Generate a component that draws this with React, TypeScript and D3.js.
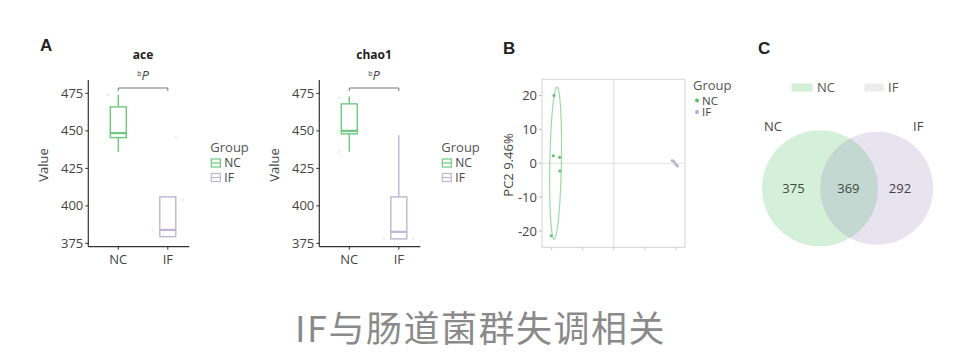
import React from "react";
import * as d3 from "d3";

const groups = ["NC", "IF"];
const aceNC = { min: 436, q1: 445.5, median: 448.5, q3: 466, max: 474 };
const aceIF = { min: 379.5, q1: 379.5, median: 384, q3: 406, max: 406 };
const chaoNC = { min: 436, q1: 448, median: 450, q3: 468, max: 473 };
const chaoIF = { min: 377.7, q1: 378, median: 382.7, q3: 406, max: 447 };
const aceFaintPoints = [
  { g: "NC", v: 474, dx: -10 }, { g: "IF", v: 446, dx: 8 }, { g: "IF", v: 404, dx: 15 }, { g: "IF", v: 384, dx: -15 },
];
const chaoFaintPoints = [
  { g: "NC", v: 472, dx: -10 }, { g: "NC", v: 436, dx: -10 }, { g: "IF", v: 378, dx: -15 }, { g: "IF", v: 378, dx: 15 },
];
const valueTicks = [375, 400, 425, 450, 475];

const pcaNC = [
  { x: -38.5, y: 20 }, { x: -38.9, y: 2.2 }, { x: -34.9, y: 1.8 }, { x: -34.7, y: -2.3 }, { x: -40.3, y: -21.4 },
];
const pcaIF = [
  { x: 37.6, y: 0.8 }, { x: 38.9, y: 0.4 }, { x: 39.9, y: -0.35 }, { x: 40.9, y: -0.8 },
];
const pcaYTicks = [-20, -10, 0, 10, 20];
const pcaXTicks = [-40, -20, 0, 20, 40];

const vennOnlyNC = 375;
const vennBoth = 369;
const vennOnlyIF = 292;

const COL_NC = "#6cca7e";
const COL_IF = "#bdb6d2";
const FONT = "'Open Sans', 'DejaVu Sans', sans-serif";

type Stat = { min: number; q1: number; median: number; q3: number; max: number };

function BoxPanel({ x0, title, nc, ifs, faint }: { x0: number; title: string; nc: Stat; ifs: Stat; faint: any[] }) {
  const y = d3.scaleLinear().domain([372.8, 483.9]).range([246.7, 80]);
  const x = d3.scalePoint().domain(groups).range([x0 + 30, x0 + 79.5]);
  const axisRight = x0 + 101;
  const stats: Record<string, Stat> = { NC: nc, IF: ifs };
  const cols: Record<string, string> = { NC: COL_NC, IF: COL_IF };
  const bw = 16;
  const bracketY = 88;
  return (
    <g>
      <text x={(x(groups[0])! + x(groups[1])!) / 2} y={59} textAnchor="middle" fontFamily={FONT} fontWeight="bold" fontSize={12} fill="#222">{title}</text>
      <path d={`M${x("NC")},${bracketY + 3}V${bracketY}H${x("IF")}V${bracketY + 3}`} fill="none" stroke="#777" strokeWidth={1} />
      <text x={(x("NC")! + x("IF")!) / 2} y={80} textAnchor="middle" fontFamily={FONT} fill="#444">
        <tspan fontSize={7} dy={-4}>b</tspan>
        <tspan fontSize={13} fontStyle="italic" dy={4}>P</tspan>
      </text>
      <line x1={x0} x2={x0} y1={80} y2={246.7} stroke="#333" strokeWidth={1.2} />
      <line x1={x0} x2={axisRight} y1={246.7} y2={246.7} stroke="#333" strokeWidth={1.2} />
      {valueTicks.map((t) => (
        <g key={t}>
          <line x1={x0 - 3} x2={x0} y1={y(t)} y2={y(t)} stroke="#333" />
          <text x={x0 - 5} y={y(t)} dy="0.35em" textAnchor="end" fontFamily={FONT} fontSize={13} fill="#444">{t}</text>
        </g>
      ))}
      {groups.map((g) => (
        <g key={g}>
          <line x1={x(g)} x2={x(g)} y1={246.7} y2={249.7} stroke="#333" />
          <text x={x(g)} y={264} textAnchor="middle" fontFamily={FONT} fontSize={13} fill="#444">{g}</text>
        </g>
      ))}
      <text transform={`translate(${x0 - 40},165) rotate(-90)`} textAnchor="middle" fontFamily={FONT} fontSize={13} fill="#444">Value</text>
      {faint.map((p, i) => (
        <circle key={i} cx={x(p.g)! + p.dx} cy={y(p.v)} r={1.3} fill={cols[p.g]} opacity={0.25} />
      ))}
      {groups.map((g) => {
        const s = stats[g];
        const cx = x(g)!;
        return (
          <g key={g} stroke={cols[g]} strokeWidth={1.4} fill="none">
            <line x1={cx} x2={cx} y1={y(s.max)} y2={y(s.q3)} />
            <line x1={cx} x2={cx} y1={y(s.q1)} y2={y(s.min)} />
            <rect x={cx - bw / 2} y={y(s.q3)} width={bw} height={y(s.q1) - y(s.q3)} fill="#fff" />
            <line x1={cx - bw / 2} x2={cx + bw / 2} y1={y(s.median)} y2={y(s.median)} strokeWidth={2.2} />
          </g>
        );
      })}
      <text x={x0 + 122} y={147} dy="0.35em" fontFamily={FONT} fontSize={13} fill="#555">Group</text>
      {groups.map((g, i) => (
        <g key={g} transform={`translate(${x0 + 123},${163 + i * 14.5})`}>
          <rect x={0} y={-4} width={9} height={8} fill="none" stroke={cols[g]} strokeWidth={1.2} />
          <line x1={0} x2={9} y1={0} y2={0} stroke={cols[g]} strokeWidth={1.2} />
          <text x={13} y={0} dy="0.35em" fontFamily={FONT} fontSize={12} fill="#444">{g}</text>
        </g>
      ))}
    </g>
  );
}

function ellipsePath(pts: { x: number; y: number }[], k: number, sx: any, sy: any) {
  const n = pts.length;
  const mx = d3.mean(pts, (p) => p.x)!;
  const my = d3.mean(pts, (p) => p.y)!;
  let a = 0, b = 0, c = 0;
  pts.forEach((p) => {
    a += (p.x - mx) ** 2;
    b += (p.x - mx) * (p.y - my);
    c += (p.y - my) ** 2;
  });
  a /= n - 1; b /= n - 1; c /= n - 1;
  const tr = a + c, det = a * c - b * b;
  const l1 = tr / 2 + Math.sqrt(tr * tr / 4 - det);
  const l2 = tr / 2 - Math.sqrt(tr * tr / 4 - det);
  const theta = Math.atan2(l1 - a, b);
  const r1 = k * Math.sqrt(l1), r2 = k * Math.sqrt(l2);
  const line = d3.line<number>()
    .x((t) => sx(mx + r1 * Math.cos(t) * Math.cos(theta) - r2 * Math.sin(t) * Math.sin(theta)))
    .y((t) => sy(my + r1 * Math.cos(t) * Math.sin(theta) + r2 * Math.sin(t) * Math.cos(theta)))
    .curve(d3.curveLinearClosed);
  return line(d3.range(0, 2 * Math.PI, 0.05))!;
}

function PcaPanel() {
  const left = 542, right = 685, top = 79.3, bottom = 247.3;
  const x = d3.scaleLinear().domain([-46.2, 45.8]).range([left, right]);
  const y = d3.scaleLinear().domain([-24.8, 24.8]).range([bottom, top]);
  return (
    <g>
      <rect x={left} y={top} width={right - left} height={bottom - top} fill="#fff" stroke="#d4d4d4" strokeWidth={1} />
      <line x1={x(0)} x2={x(0)} y1={top} y2={bottom} stroke="#dcdcdc" />
      <line x1={left} x2={right} y1={y(0)} y2={y(0)} stroke="#e3e3e3" />
      {pcaYTicks.map((t) => (
        <g key={t}>
          <line x1={left - 3} x2={left} y1={y(t)} y2={y(t)} stroke="#bbb" />
          <text x={left - 5} y={y(t)} dy="0.35em" textAnchor="end" fontFamily={FONT} fontSize={13} fill="#444">{t}</text>
        </g>
      ))}
      {pcaXTicks.map((t) => (
        <line key={t} x1={x(t)} x2={x(t)} y1={bottom} y2={bottom + 3} stroke="#ccc" />
      ))}
      <text transform={`translate(513,165) rotate(-90)`} textAnchor="middle" fontFamily={FONT} fontSize={13} fill="#444">PC2 9.46%</text>
      <path d={ellipsePath(pcaNC, 1.52, x, y)} fill="none" stroke="#9ed8a9" strokeWidth={1.2} />
      {pcaNC.map((p, i) => <circle key={i} cx={x(p.x)} cy={y(p.y)} r={1.5} fill="#5cbf70" />)}
      {pcaIF.map((p, i) => <circle key={i} cx={x(p.x)} cy={y(p.y)} r={1.6} fill="#aca4c8" opacity={0.8} />)}
      <text x={693} y={85} dy="0.35em" fontFamily={FONT} fontSize={13} fill="#555">Group</text>
      {groups.map((g, i) => (
        <g key={g} transform={`translate(697,${100.5 + i * 11.5})`}>
          <circle r={2} fill={g === "NC" ? "#5cbf70" : "#b3acd0"} />
          <text x={5} y={0} dy="0.35em" fontFamily={FONT} fontSize={11.5} fill="#444">{g}</text>
        </g>
      ))}
    </g>
  );
}

function VennPanel() {
  const totNC = vennOnlyNC + vennBoth;
  const totIF = vennOnlyIF + vennBoth;
  const r = d3.scaleSqrt().domain([0, totNC]).range([0, 58]);
  const rNC = r(totNC), rIF = Math.max(r(totIF), 56.5);
  const cy = 188.3, cxNC = 820, cxIF = 876.7;
  return (
    <g>
      <defs>
        <clipPath id="clipNC"><circle cx={cxNC} cy={cy} r={rNC} /></clipPath>
      </defs>
      <rect x={791.5} y={83.5} width={21} height={8} fill="#d3efd6" />
      <text x={817} y={87.5} dy="0.35em" fontFamily={FONT} fontSize={13} fill="#555">NC</text>
      <rect x={864.5} y={83.5} width={19} height={8} fill="#ecebee" />
      <text x={888} y={87.5} dy="0.35em" fontFamily={FONT} fontSize={13} fill="#555">IF</text>
      <text x={764} y={126} dy="0.35em" fontFamily={FONT} fontSize={13} fill="#444">NC</text>
      <text x={913} y={126} dy="0.35em" fontFamily={FONT} fontSize={13} fill="#444">IF</text>
      <circle cx={cxNC} cy={cy} r={rNC} fill="#d5f0d8" />
      <circle cx={cxIF} cy={cy} r={rIF} fill="#e8e4ef" />
      <circle cx={cxIF} cy={cy} r={rIF} fill="#c3d8d0" clipPath="url(#clipNC)" />
      <text x={793.5} y={cy} dy="0.35em" textAnchor="middle" fontFamily={FONT} fontSize={13} fill="#3d4a44">{vennOnlyNC}</text>
      <text x={848.4} y={cy} dy="0.35em" textAnchor="middle" fontFamily={FONT} fontSize={13} fill="#3d4a44">{vennBoth}</text>
      <text x={900} y={cy} dy="0.35em" textAnchor="middle" fontFamily={FONT} fontSize={13} fill="#3d3d48">{vennOnlyIF}</text>
    </g>
  );
}

export default function App() {
  return (
    <svg width={960} height={353} style={{ position: "absolute", left: 0, top: 0, background: "#fff" }}>
      <rect width={960} height={353} fill="#fff" />
      <text x={40} y={51} fontFamily="'Liberation Sans', Arial, sans-serif" fontWeight="bold" fontSize={17} fill="#222">A</text>
      <text x={503} y={54} fontFamily="'Liberation Sans', Arial, sans-serif" fontWeight="bold" fontSize={17} fill="#222">B</text>
      <text x={758} y={54} fontFamily="'Liberation Sans', Arial, sans-serif" fontWeight="bold" fontSize={17} fill="#222">C</text>
      <BoxPanel x0={88.3} title="ace" nc={aceNC} ifs={aceIF} faint={aceFaintPoints} />
      <BoxPanel x0={319.3} title="chao1" nc={chaoNC} ifs={chaoIF} faint={chaoFaintPoints} />
      <PcaPanel />
      <VennPanel />
      <text x={480.5} y={342} textAnchor="middle" fontFamily="'Noto Sans CJK SC', sans-serif" fontSize={36} letterSpacing={1.5} fill="#8a8a8a">IF与肠道菌群失调相关</text>
    </svg>
  );
}
